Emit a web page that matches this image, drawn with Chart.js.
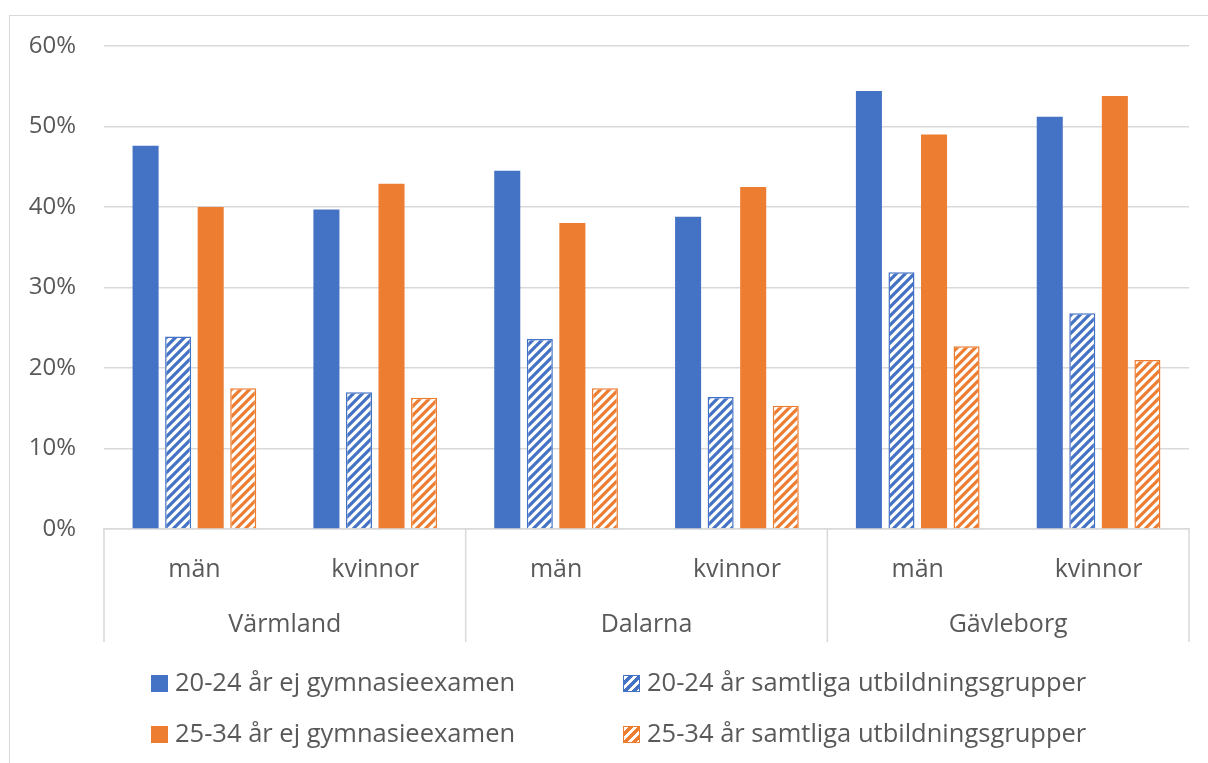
<!DOCTYPE html>
<html>
<head>
<meta charset="utf-8">
<script src="https://cdn.jsdelivr.net/npm/chart.js@4.4.1/dist/chart.umd.min.js"></script>
<style>
  html, body { margin: 0; padding: 0; background: #fff; overflow: hidden; }
  #wrap { position: relative; width: 1208px; height: 763px; }
  #frame { position: absolute; left: 9px; top: 15px; width: 1400px; height: 1000px; border: 1.5px solid #d9d9d9; box-sizing: border-box; }
  #c { position: absolute; left: 0; top: 0; }
  .lg { position: absolute; font-family: "Open Sans", sans-serif; font-size: 25.5px; color: #595959; white-space: nowrap; line-height: 30px; }
  .sw { display: inline-block; width: 17px; height: 17px; vertical-align: -1px; margin-right: 7px; box-sizing: border-box; }
</style>
</head>
<body>
<div id="wrap">
  <div id="frame"></div>
  <canvas id="c" width="1208" height="763"></canvas>
</div>
<script>
var categories = ['män', 'kvinnor', 'män', 'kvinnor', 'män', 'kvinnor'];
var regions = ['Värmland', 'Dalarna', 'Gävleborg'];
var yTicks = [0, 10, 20, 30, 40, 50, 60];

var seriesNames = [
  '20-24 år ej gymnasieexamen',
  '20-24 år samtliga utbildningsgrupper',
  '25-34 år ej gymnasieexamen',
  '25-34 år samtliga utbildningsgrupper'
];
var young_noExam = [47.6, 39.7, 44.5, 38.8, 54.4, 51.2];
var young_all = [23.9, 17.0, 23.6, 16.4, 31.9, 26.8];
var older_noExam = [40.0, 42.9, 38.0, 42.5, 49.0, 53.8];
var older_all = [17.5, 16.3, 17.5, 15.3, 22.7, 21.0];

var BLUE = '#4472C4', ORANGE = '#ED7D31', TEXT = '#595959', GRID = '#d9d9d9';
var FONT = '"Open Sans", sans-serif';

// diagonal "/" stripes on white
function hatch(color) {
  var n = 9;
  var p = document.createElement('canvas');
  p.width = n; p.height = n;
  var g = p.getContext('2d');
  g.fillStyle = '#fff';
  g.fillRect(0, 0, n, n);
  g.strokeStyle = color;
  g.lineWidth = 3.2;
  g.beginPath();
  g.moveTo(-2, n + 2); g.lineTo(n + 2, -2);
  g.moveTo(-2, 2); g.lineTo(2, -2);
  g.moveTo(n - 2, n + 2); g.lineTo(n + 2, n - 2);
  g.stroke();
  return g.createPattern(p, 'repeat');
}

var ctx = document.getElementById('c').getContext('2d');

// region labels and separators under the category labels
var groupAxis = {
  id: 'groupAxis',
  afterDraw: function(chart) {
    var c = chart.ctx, area = chart.chartArea;
    var step = (area.right - area.left) / categories.length;
    c.save();
    c.strokeStyle = GRID;
    c.lineWidth = 1.5;
    for (var i = 0; i <= regions.length; i++) {
      var px = area.left + i * 2 * step;
      c.beginPath();
      c.moveTo(px, area.bottom);
      c.lineTo(px, 642);
      c.stroke();
    }
    c.fillStyle = TEXT;
    c.font = '25px ' + FONT;
    c.textAlign = 'center';
    c.textBaseline = 'middle';
    regions.forEach(function(r, i) {
      c.fillText(r, area.left + (i * 2 + 1) * step, 625);
    });
    c.restore();
  }
};

var chart = new Chart(ctx, {
  type: 'bar',
  data: {
    labels: categories,
    datasets: [
      { label: seriesNames[0], data: young_noExam, backgroundColor: BLUE, borderWidth: 0 },
      { label: seriesNames[1], data: young_all, backgroundColor: hatch(BLUE), borderColor: BLUE, borderWidth: 1.5 },
      { label: seriesNames[2], data: older_noExam, backgroundColor: ORANGE, borderWidth: 0 },
      { label: seriesNames[3], data: older_all, backgroundColor: hatch(ORANGE), borderColor: ORANGE, borderWidth: 1.5 }
    ]
  },
  options: {
    responsive: false,
    animation: false,
    layout: { padding: { left: 9, top: 46, right: 19, bottom: 0 } },
    datasets: { bar: { categoryPercentage: 0.72, barPercentage: 0.8 } },
    plugins: { legend: { display: false }, tooltip: { enabled: false } },
    scales: {
      x: {
        grid: { display: false, drawTicks: false },
        border: { display: true, color: GRID, width: 1.5 },
        ticks: { color: TEXT, font: { family: FONT, size: 25 }, padding: 26 },
        afterFit: function(s) { s.height = 763 - 529; }
      },
      y: {
        min: 0, max: 60,
        afterBuildTicks: function(s) { s.ticks = yTicks.map(function(v) { return { value: v }; }); },
        grid: { color: GRID, lineWidth: 1.5, drawTicks: false },
        border: { display: false },
        ticks: {
          color: TEXT, font: { family: FONT, size: 24 }, padding: 28,
          callback: function(v) { return v + '%'; }
        },
        afterFit: function(s) { s.width = 95; }
      }
    }
  },
  plugins: [groupAxis]
});

// legend, two columns
var wrap = document.getElementById('wrap');
var spots = [[151, 666], [623, 666], [151, 717], [623, 717]];
var fills = [BLUE, BLUE, ORANGE, ORANGE];
seriesNames.forEach(function(name, i) {
  var d = document.createElement('div');
  d.className = 'lg';
  d.style.left = spots[i][0] + 'px';
  d.style.top = spots[i][1] + 'px';
  var sw = document.createElement('span');
  sw.className = 'sw';
  if (i % 2 === 0) {
    sw.style.background = fills[i];
  } else {
    sw.style.border = '1.5px solid ' + fills[i];
    sw.style.background = 'repeating-linear-gradient(-45deg, #fff 0 2px, ' + fills[i] + ' 2px 5px, #fff 5px 6.4px)';
  }
  d.appendChild(sw);
  d.appendChild(document.createTextNode(name));
  wrap.appendChild(d);
});
</script>
</body>
</html>
